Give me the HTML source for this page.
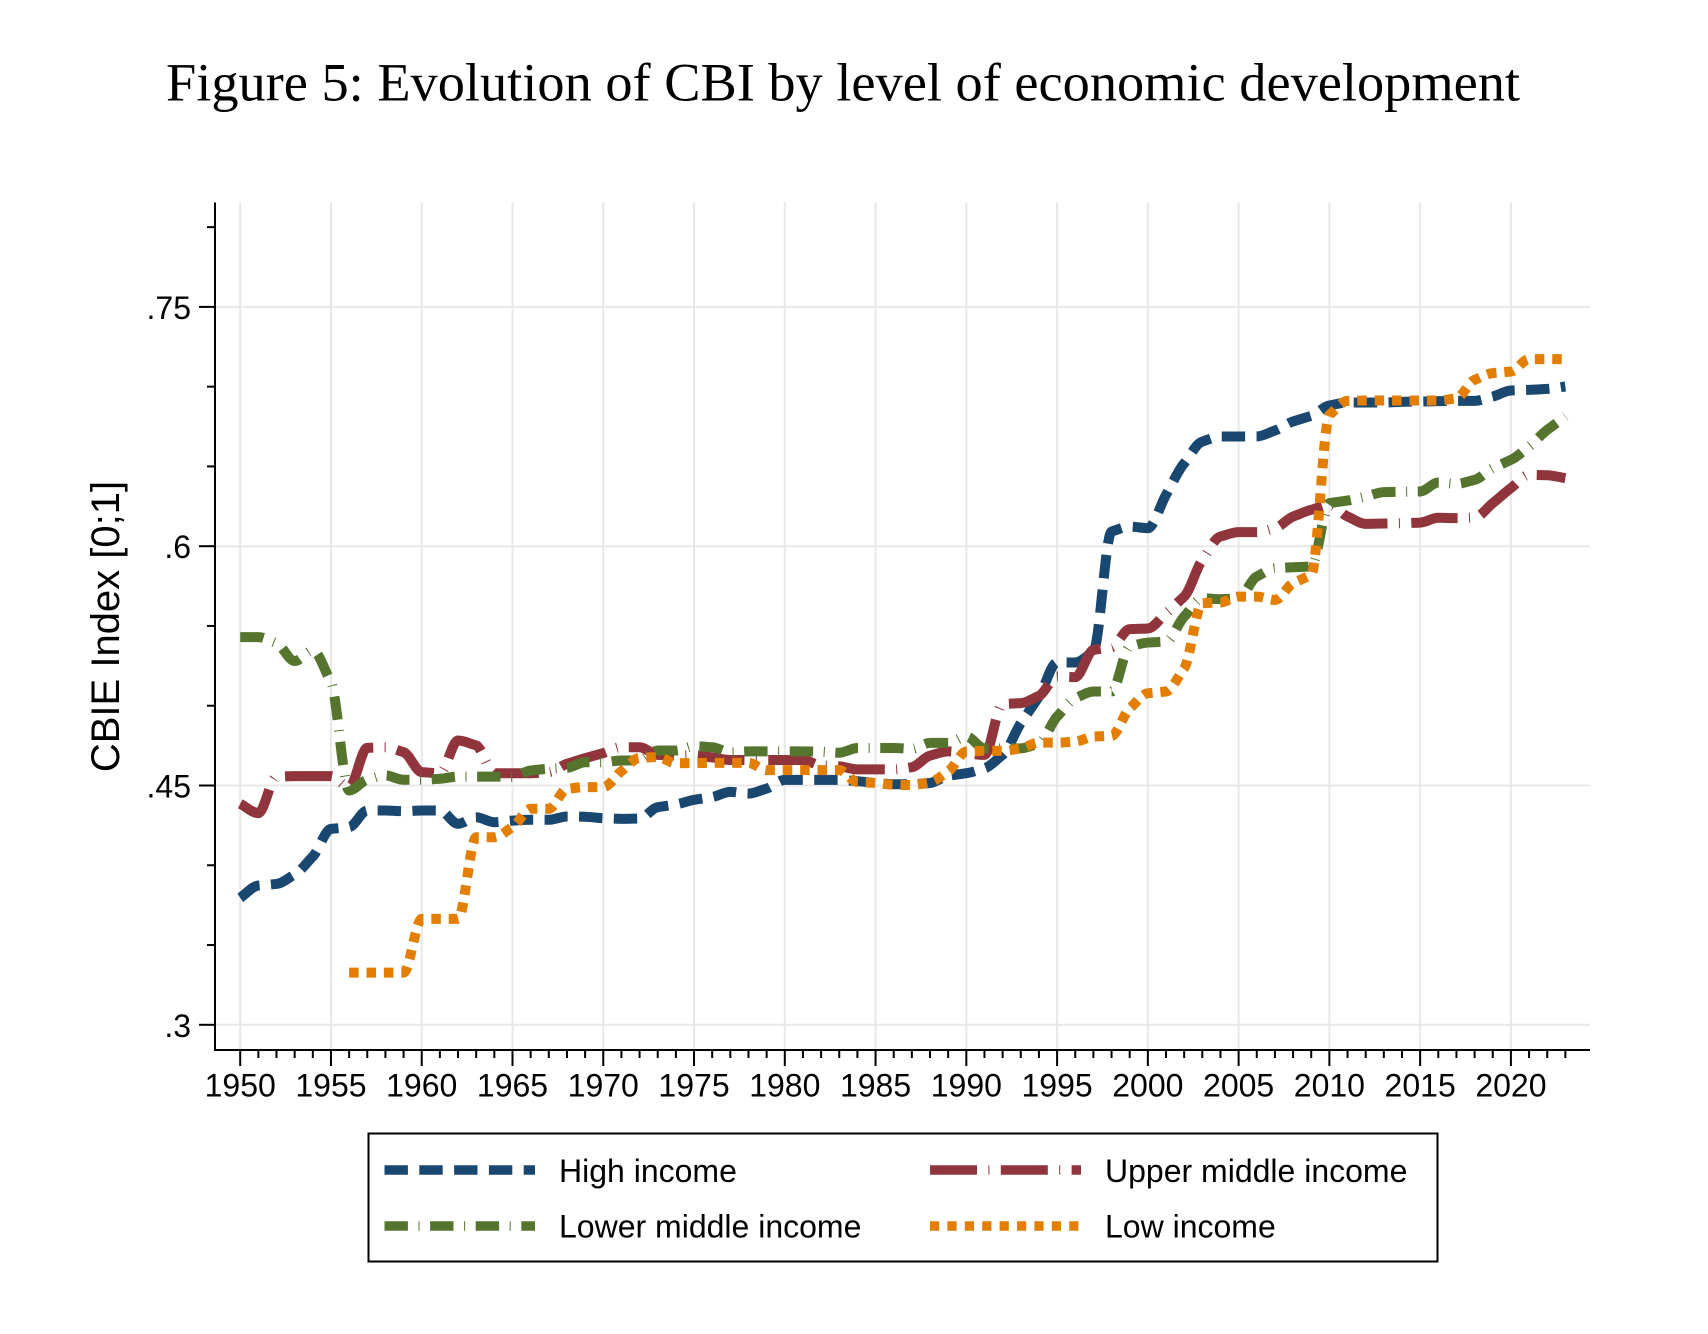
<!DOCTYPE html>
<html lang="en">
<head>
<meta charset="utf-8">
<title>Figure 5: Evolution of CBI by level of economic development</title>
<style>
html,body{margin:0;padding:0;background:#fff;}
svg{display:block;}
text{font-family:"Liberation Sans",sans-serif;fill:#000;}
.title{font-family:"Liberation Serif",serif;}
</style>
</head>
<body>
<svg id="chart" xmlns="http://www.w3.org/2000/svg" width="1708" height="1334" viewBox="0 0 1708 1334">
  <rect width="1708" height="1334" fill="#ffffff"/>
  <text class="title" x="166" y="100.5" font-size="54" textLength="1354" lengthAdjust="spacingAndGlyphs">Figure 5: Evolution of CBI by level of economic development</text>
  <g id="grid"></g>
  <g id="axes"></g>
  <g id="series"></g>
  <text transform="translate(119 626.5) rotate(-90)" text-anchor="middle" font-size="40">CBIE Index [0;1]</text>
  <g>
    <rect x="368.5" y="1133.5" width="1069" height="128" fill="#fff" stroke="#000" stroke-width="2"/>
    <line x1="384.5" y1="1170" x2="535" y2="1170" stroke="#1a476f" stroke-width="9.5" stroke-dasharray="23.4 11.4"/>
    <text x="559" y="1182" font-size="32">High income</text>
    <line x1="930" y1="1170" x2="1081" y2="1170" stroke="#90353b" stroke-width="9.5" stroke-dasharray="47 11.4 1 11.4"/>
    <text x="1105" y="1182" font-size="32">Upper middle income</text>
    <line x1="384.5" y1="1226" x2="535" y2="1226" stroke="#55752f" stroke-width="9.5" stroke-dasharray="23.4 10.6 1 10.6"/>
    <text x="559" y="1237.5" font-size="32">Lower middle income</text>
    <line x1="930" y1="1226" x2="1079" y2="1226" stroke="#e37e00" stroke-width="9.5" stroke-dasharray="9.2 8.2"/>
    <text x="1105" y="1237.5" font-size="32">Low income</text>
  </g>
</svg>
<script>
const firstYear = 1950;
const lastYear = 2023;
const xTickLabels = [1950,1955,1960,1965,1970,1975,1980,1985,1990,1995,2000,2005,2010,2015,2020];
const yTickValues = [0.3,0.45,0.6,0.75];
const yTickLabels = [".3",".45",".6",".75"];
const yMinorValues = [0.35,0.4,0.5,0.55,0.65,0.7,0.8];

const highIncome = [.3796,.3873,.3883,.3942,.4055,.4228,.4239,.4343,.4343,.4339,.4343,.4343,.426,.4301,.427,.428,.4285,.4285,.4306,.4304,.4295,.4291,.4293,.4364,.4381,.4410,.4428,.446,.4449,.4481,.4535,.4535,.4535,.4535,.4527,.4516,.4508,.4508,.4516,.4561,.4577,.4608,.4692,.489,.5057,.5271,.5271,.534,.6092,.6123,.6113,.6322,.652,.6656,.6688,.6688,.6688,.6725,.6782,.6817,.6882,.6901,.6901,.6901,.6905,.6907,.6909,.6911,.6911,.6938,.6976,.698,.6986,.7001];
const upperMiddleIncome = [.4385,.4327,.4555,.4559,.4559,.4559,.449,.4736,.474,.4709,.4584,.4577,.4782,.4751,.4577,.4577,.4577,.4584,.4636,.4671,.4703,.474,.474,.4692,.4688,.469,.4676,.466,.466,.466,.466,.466,.4625,.462,.4601,.4601,.4601,.4615,.4687,.4714,.4702,.4692,.5011,.5016,.5062,.5183,.5179,.535,.5367,.548,.5484,.558,.5684,.5914,.6061,.6088,.6088,.6113,.6186,.6228,.6259,.6186,.614,.6142,.6144,.6148,.6178,.6176,.618,.627,.6364,.6447,.6445,.6426];
const lowerMiddleIncome = [.543,.543,.5392,.528,.5346,.5148,.4469,.4536,.4563,.4536,.4536,.4542,.4556,.4556,.4556,.4556,.4594,.4605,.4611,.4646,.4646,.4657,.4657,.4719,.4719,.4746,.474,.4708,.4714,.4714,.4714,.4714,.4712,.4705,.4735,.4735,.4735,.473,.4767,.4767,.4807,.4733,.4733,.4733,.4765,.4932,.5047,.5089,.5089,.5371,.5396,.5402,.5559,.5674,.5668,.5674,.581,.5862,.5868,.5873,.627,.6286,.6311,.6339,.6341,.6343,.6399,.6391,.6416,.6489,.6541,.6625,.6729,.6813];
const lowIncome = [null,null,null,null,null,null,.3327,.3327,.3327,.3327,.3664,.3664,.3664,.4176,.4176,.4239,.4354,.4354,.4479,.449,.449,.459,.4673,.4678,.464,.464,.4642,.4642,.4642,.4596,.4596,.4596,.4596,.4596,.4521,.4516,.4505,.4503,.4521,.4588,.4713,.4717,.4717,.4733,.4769,.4769,.4775,.4807,.4811,.4984,.5078,.5089,.5235,.5643,.5647,.5684,.5684,.5663,.5768,.582,.6823,.6911,.6913,.6913,.6913,.6913,.6913,.6928,.7043,.7085,.7095,.7173,.7173,.7173];

const NS = "http://www.w3.org/2000/svg";
function xScale(year){ return 240.2 + (year - 1950) * 18.153; }
function yScale(v){ return 546.2 - (v - 0.6) * (239.3 / 0.15); }

function addLine(parent, x1, y1, x2, y2, stroke, width){
  const l = document.createElementNS(NS, "line");
  l.setAttribute("x1", x1);
  l.setAttribute("y1", y1);
  l.setAttribute("x2", x2);
  l.setAttribute("y2", y2);
  l.setAttribute("stroke", stroke);
  l.setAttribute("stroke-width", width);
  parent.appendChild(l);
  return l;
}
function addText(parent, x, y, size, anchor, str){
  const t = document.createElementNS(NS, "text");
  t.setAttribute("x", x);
  t.setAttribute("y", y);
  t.setAttribute("font-size", size);
  t.setAttribute("text-anchor", anchor);
  t.textContent = str;
  parent.appendChild(t);
  return t;
}

const plotLeft = 215, plotRight = 1590, plotTop = 202.5, plotBottom = 1050;
const grid = document.getElementById("grid");
const axes = document.getElementById("axes");

yTickValues.forEach(function(v){
  const g = addLine(grid, plotLeft, yScale(v), plotRight, yScale(v), "#e8e8e8", 2);
  
  
});
xTickLabels.forEach(function(y){
  const g = addLine(grid, xScale(y), plotTop, xScale(y), plotBottom, "#e8e8e8", 2);
  
  
});

const yAxisLine = addLine(axes, plotLeft, plotTop, plotLeft, plotBottom + 1, "#000", 2);


const xAxisLine = addLine(axes, plotLeft - 1, plotBottom, plotRight, plotBottom, "#000", 2);



yTickValues.forEach(function(v, i){
  const t = addLine(axes, 199, yScale(v), plotLeft, yScale(v), "#000", 2);
  
  
  const lab = addText(axes, 191, yScale(v) + 12, 32, "end", yTickLabels[i]);
  
  
});
yMinorValues.forEach(function(v){
  const t = addLine(axes, 207, yScale(v), plotLeft, yScale(v), "#000", 2);
  
  
});
for (let y = firstYear; y <= lastYear; y++) {
  const major = xTickLabels.indexOf(y) >= 0;
  const t = addLine(axes, xScale(y), plotBottom, xScale(y), major ? 1066 : 1058, "#000", 2);
  
  
}
xTickLabels.forEach(function(y){
  const lab = addText(axes, xScale(y), 1096.5, 32, "middle", String(y));
  
  
});

/* Monotone cubic path through the data points, giving the rounded corners of the original */
function monotonePath(values){
  const pts = [];
  values.forEach(function(v, i){
    if (v !== null) pts.push([xScale(firstYear + i), yScale(v)]);
  });
  const n = pts.length;
  const slopes = [];
  for (let i = 0; i < n - 1; i++) {
    slopes.push((pts[i + 1][1] - pts[i][1]) / (pts[i + 1][0] - pts[i][0]));
  }
  const tangents = [];
  for (let i = 0; i < n; i++) {
    if (i === 0) tangents.push(slopes[0]);
    else if (i === n - 1) tangents.push(slopes[n - 2]);
    else if (slopes[i - 1] * slopes[i] <= 0) tangents.push(0);
    else {
      const s = slopes[i - 1] > 0 ? 1 : -1;
      tangents.push(s * Math.min(Math.abs(slopes[i - 1]), Math.abs(slopes[i]), Math.abs(slopes[i - 1] + slopes[i]) / 2 * 1.2));
    }
  }
  let d = "M" + pts[0][0].toFixed(2) + " " + pts[0][1].toFixed(2);
  for (let i = 0; i < n - 1; i++) {
    const h = (pts[i + 1][0] - pts[i][0]) / 3;
    d += "C" + (pts[i][0] + h).toFixed(2) + " " + (pts[i][1] + h * tangents[i]).toFixed(2) + " " +
      (pts[i + 1][0] - h).toFixed(2) + " " + (pts[i + 1][1] - h * tangents[i + 1]).toFixed(2) + " " +
      pts[i + 1][0].toFixed(2) + " " + pts[i + 1][1].toFixed(2);
  }
  return d;
}

function drawSeries(values, color, dash, name){
  const p = document.createElementNS(NS, "path");
  p.setAttribute("d", monotonePath(values));
  p.setAttribute("fill", "none");
  p.setAttribute("stroke", color);
  p.setAttribute("stroke-width", 10);
  p.setAttribute("stroke-dasharray", dash);
  p.setAttribute("stroke-linejoin", "miter");
  p.setAttribute("stroke-linecap", "butt");
  
  
  document.getElementById("series").appendChild(p);
}
drawSeries(highIncome, "#1a476f", "23.4 11.4", "line-high-income");
drawSeries(upperMiddleIncome, "#90353b", "47 11.4 1 11.4", "line-upper-middle-income");
drawSeries(lowerMiddleIncome, "#55752f", "23.4 10.6 1 10.6", "line-lower-middle-income");
drawSeries(lowIncome, "#e37e00", "9.5 7.9", "line-low-income");
</script>
</body>
</html>
